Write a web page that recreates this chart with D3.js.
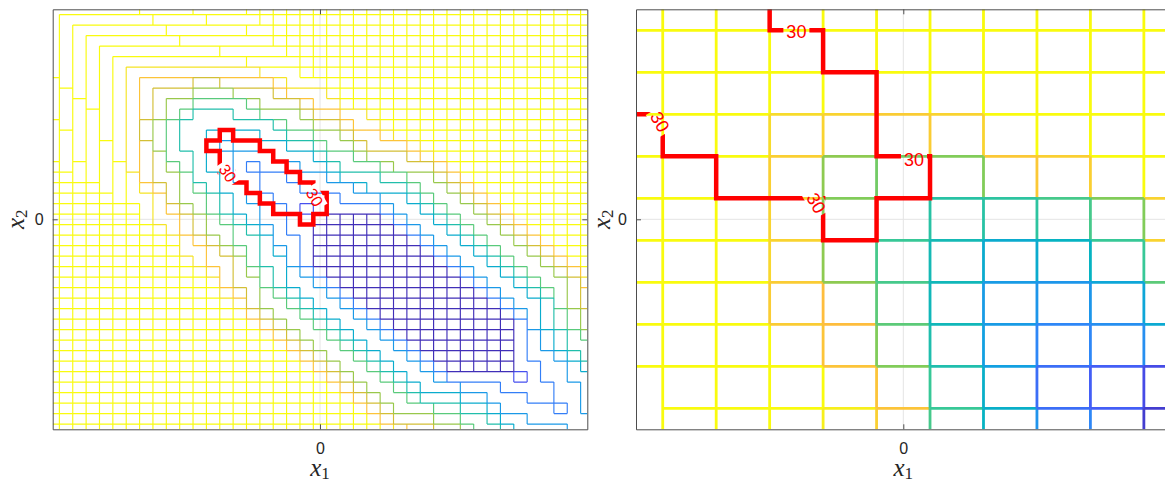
<!DOCTYPE html>
<html>
<head>
<meta charset="utf-8">
<script src="https://cdn.jsdelivr.net/npm/d3@7/dist/d3.min.js"></script>
<style>
  html, body { margin: 0; padding: 0; background: #fff; }
  svg { display: block; }
</style>
</head>
<body>
<svg id="chart" width="1165" height="484"></svg>
<script>
// ---------------- data ----------------
const x1Domain = [-2, 2];
const x2Domain = [-2, 2];
const tickValues = [0];
const contourLabel = "30";

// Fine sampling, 41 x 41 cells, rows listed from x2 = 2 (top) down to x2 = -2.
// Each row: [leading steep cells, band codes]; the rest of the row is steep cells.
// '+' steep cell (a level boundary on every side), '*' basin cell,
// '1'-'9','a'-'i' contour band the cell falls in.
const fineSize = 41;
const fineRows = [
  [0, "ggggggghhhhiiii"],
  [0, "gfffffffgggghhhh"],
  [0, "gfeeeeeeeffffffgg"],
  [0, "gfedddddddeeeeeeef"],
  [0, "gfedcccccccccddddde"],
  [0, "gfedcbbbbbbbbbbccccd"],
  [0, "gfedcbaaaaaaaaaabbbcd"],
  [0, "hfedcba9999889999abbbc"],
  [0, "hgedcba98887778889aaabc"],
  [0, "hgfdcba9877666678889aabc"],
  [0, "hgfecba987655566777899aab"],
  [0, "igfecba8765555555677889aab"],
  [0, "ihfecba876554444556677899ab"],
  [0, "ihfedba97655434444556778999a"],
  [0, "ihfedba986654433344456678889a"],
  [1, "hgedca98765443233344566678889"],
  [2, "gedcb988755433223334555667789"],
  [3, "fdcba987654432223333455567789"],
  [4, "ecbba877654332222233344567789"],
  [5, "dcba9876544332122222344567789"],
  [6, "dbaa9876543322*****2344567789"],
  [7, "cba9877654322******2344567789"],
  [8, "cba987665332*******2344567789"],
  [9, "caa98765432********2344567789"],
  [10, "ba99865532*********2344567789"],
  [11, "ba98765432*********2344567789"],
  [12, "b988654432*********234456778a"],
  [13, "a987654432*********234456789"],
  [14, "a877654432*********23445789"],
  [15, "9877654432*********2345678"],
  [16, "9877654432*********245678"],
  [17, "9877654432********234567"],
  [18, "9877654432*******234566"],
  [19, "9877654432******233456"],
  [20, "9877654432*****223345"],
  [21, "98776544322222123344"],
  [22, "9877654443332222334"],
  [23, "987765554433322334"],
  [24, "98777665543333234"],
  [25, "9888776654433333"],
  [26, "a99887665444433"]
];
const fineTopBand = 11;

// Cells inside the 30 contour on the fine sampling: [row, first column, last column]
const fineRedRuns = [
  [12, 13, 13], [13, 12, 15], [14, 13, 16], [15, 13, 17], [16, 14, 18],
  [17, 15, 19], [18, 16, 20], [19, 17, 20], [20, 19, 19]
];
const fineRedLabels = [
  { x1: -0.69, x2: 0.44, angle: 56 },
  { x1: -0.04, x2: 0.21, angle: 60 }
];

// Coarse sampling, 11 x 11 cells, normalised colour level (1 and above = top colour)
const coarseSize = 11;
const coarseLevels = [
  [2.00, 1.95, 1.90, 1.85, 1.80, 1.75, 1.70, 1.65, 1.60, 1.55, 1.50],
  [1.95, 1.90, 1.85, 1.80, 1.75, 1.70, 1.65, 1.60, 1.55, 1.50, 1.45],
  [1.90, 1.85, 1.80, 1.75, 1.70, 1.60, 1.55, 1.50, 1.45, 1.40, 1.35],
  [1.80, 1.75, 1.70, 0.88, 0.86, 0.84, 0.86, 1.20, 1.15, 1.10, 1.05],
  [1.70, 1.65, 1.60, 0.85, 0.62, 0.58, 0.60, 0.83, 0.85, 1.05, 1.00],
  [1.60, 1.55, 1.50, 0.86, 0.60, 0.50, 0.47, 0.48, 0.52, 0.60, 0.86],
  [1.50, 1.45, 1.40, 0.87, 0.62, 0.52, 0.43, 0.36, 0.40, 0.50, 0.90],
  [1.40, 1.35, 1.30, 0.84, 0.80, 0.55, 0.42, 0.28, 0.26, 0.33, 0.55],
  [1.30, 1.25, 1.20, 1.10, 0.82, 0.60, 0.45, 0.30, 0.20, 0.23, 0.35],
  [1.20, 1.15, 1.10, 1.05, 1.00, 0.82, 0.50, 0.38, 0.15, 0.12, 0.08],
  [1.20, 1.10, 1.05, 1.02, 0.95, 0.85, 0.52, 0.40, 0.25, 0.20, 0.05]
];
const coarseRedRuns = [
  [0, 0, 2], [1, 0, 3], [2, 0, 4], [3, 1, 4], [4, 2, 5], [5, 4, 4]
];
const coarseRedLabels = [
  { x1: -0.80, x2: 1.79, angle: 0 },
  { x1: -1.82, x2: 0.93, angle: 60 },
  { x1: 0.08, x2: 0.57, angle: 0 },
  { x1: -0.65, x2: 0.155, angle: 60 }
];

// ---------------- colour map (parula-like) ----------------
const parulaStops = ["#3e26a8", "#4854f6", "#2e87f7", "#12a0e1", "#06b3c2",
                     "#37c897", "#81cc59", "#c3c033", "#febd3d", "#f5e227", "#f9fb0e"];
const parula = d3.scaleLinear()
  .domain(parulaStops.map((_, k) => k / (parulaStops.length - 1)))
  .range(parulaStops)
  .clamp(true);

// ---------------- helpers ----------------
const svg = d3.select("#chart");
const defs = svg.append("defs");

function bandLevel(ch) {
  if (ch === "*") return -1;
  if (ch === "+") return Infinity;
  return parseInt(ch, 36);
}

function runsToSet(runs) {
  const s = new Set();
  runs.forEach(([r, a, b]) => { for (let c = a; c <= b; c++) s.add(r + "," + c); });
  return s;
}

function drawPanel(cfg) {
  const { left, right, top, bottom } = cfg.box;
  const sx = d3.scaleLinear().domain(x1Domain).range([left, right]);
  const sy = d3.scaleLinear().domain(x2Domain).range([bottom, top]);
  const n = cfg.n;
  const stepX = (x1Domain[1] - x1Domain[0]) / (n - 1);
  const stepY = (x2Domain[1] - x2Domain[0]) / (n - 1);
  const colX = j => x1Domain[0] + j * stepX;
  const rowY = i => x2Domain[1] - i * stepY;
  const xA = j => Math.max(x1Domain[0], colX(j) - stepX / 2);
  const xB = j => Math.min(x1Domain[1], colX(j) + stepX / 2);
  const yA = i => Math.min(x2Domain[1], rowY(i) + stepY / 2);
  const yB = i => Math.max(x2Domain[0], rowY(i) - stepY / 2);

  const clipId = "clip-" + cfg.id;
  defs.append("clipPath").attr("id", clipId)
    .append("rect").attr("x", left).attr("y", top)
    .attr("width", right - left).attr("height", bottom - top);

  const g = svg.append("g");
  const plot = g.append("g").attr("clip-path", `url(#${clipId})`);

  // zero grid lines
  plot.append("line").attr("x1", sx(0)).attr("x2", sx(0)).attr("y1", top).attr("y2", bottom)
    .attr("stroke", "#e4e4e4").attr("stroke-width", 1);
  plot.append("line").attr("y1", sy(0)).attr("y2", sy(0)).attr("x1", left).attr("x2", right)
    .attr("stroke", "#e4e4e4").attr("stroke-width", 1);

  // level boundaries between neighbouring cells
  const segs = [];
  for (let i = 0; i < n; i++) {
    for (let j = 0; j < n; j++) {
      if (j < n - 1 && cfg.split(i, j, i, j + 1)) {
        segs.push({ a: [sx(xB(j)), sy(yA(i))], b: [sx(xB(j)), sy(yB(i))], t: cfg.tone(i, j, i, j + 1) });
      }
      if (i < n - 1 && cfg.split(i, j, i + 1, j)) {
        segs.push({ a: [sx(xA(j)), sy(yB(i))], b: [sx(xB(j)), sy(yB(i))], t: cfg.tone(i, j, i + 1, j) });
      }
    }
  }
  const byColour = Array.from(d3.group(segs, d => parula(d.t)));
  byColour.sort((p, q) => d3.descending(d3.mean(p[1], d => d.t), d3.mean(q[1], d => d.t)));
  plot.append("g").selectAll("path").data(byColour).join("path")
    .attr("d", ([, arr]) => arr.map(s => `M${s.a[0]},${s.a[1]}L${s.b[0]},${s.b[1]}`).join(""))
    .attr("fill", "none")
    .attr("stroke", ([c]) => c)
    .attr("stroke-width", cfg.lineWidth);

  // contour 30 (staircase boundary of the marked cells)
  const inside = runsToSet(cfg.redRuns);
  const isIn = (i, j) => inside.has(i + "," + j);
  const red = [];
  inside.forEach(key => {
    const [i, j] = key.split(",").map(Number);
    if (j + 1 < n && !isIn(i, j + 1)) red.push([[xB(j), yA(i)], [xB(j), yB(i)]]);
    if (j - 1 >= 0 && !isIn(i, j - 1)) red.push([[xA(j), yA(i)], [xA(j), yB(i)]]);
    if (i + 1 < n && !isIn(i + 1, j)) red.push([[xA(j), yB(i)], [xB(j), yB(i)]]);
    if (i - 1 >= 0 && !isIn(i - 1, j)) red.push([[xA(j), yA(i)], [xB(j), yA(i)]]);
  });

  // labels first, so the gaps in the contour can be sized from them
  const labelG = g.append("g");
  const labels = cfg.redLabels.map(l => {
    const px = sx(l.x1), py = sy(l.x2);
    const t = labelG.append("text")
      .attr("transform", `translate(${px},${py}) rotate(${l.angle})`)
      .attr("text-anchor", "middle")
      .attr("dy", "0.36em")
      .attr("font-family", "'Liberation Sans', Arial, Helvetica, sans-serif")
      .attr("font-size", cfg.labelSize)
      .attr("fill", "#ff0000")
      .text(contourLabel);
    return { px, py, angle: l.angle, w: t.node().getComputedTextLength() };
  });

  const maskId = "gap-" + cfg.id;
  const mask = defs.append("mask").attr("id", maskId).attr("maskUnits", "userSpaceOnUse")
    .attr("x", 0).attr("y", 0).attr("width", 1165).attr("height", 484);
  mask.append("rect").attr("x", 0).attr("y", 0).attr("width", 1165).attr("height", 484).attr("fill", "#fff");
  labels.forEach(l => {
    mask.append("rect")
      .attr("transform", `translate(${l.px},${l.py}) rotate(${l.angle})`)
      .attr("x", -l.w / 2 - 3).attr("y", -cfg.labelSize * 0.5)
      .attr("width", l.w + 6).attr("height", cfg.labelSize)
      .attr("fill", "#000");
  });

  plot.append("g").attr("mask", `url(#${maskId})`)
    .append("path")
    .attr("d", red.map(([p, q]) => `M${sx(p[0])},${sy(p[1])}L${sx(q[0])},${sy(q[1])}`).join(""))
    .attr("fill", "none")
    .attr("stroke", "#ff0000")
    .attr("stroke-width", cfg.redWidth)
    .attr("stroke-linecap", "square");

  labelG.raise();

  // axes (box with inward ticks)
  const axisColour = "#4d4d4d";
  const styleAxis = sel => {
    sel.select(".domain").attr("stroke", axisColour).attr("stroke-width", 1);
    sel.selectAll(".tick line").attr("stroke", axisColour).attr("stroke-width", 1);
    sel.selectAll(".tick text")
      .attr("fill", "#262626")
      .attr("font-size", 16)
      .attr("font-family", "'Liberation Sans', Arial, Helvetica, sans-serif");
  };
  const fmt = d3.format("d");
  const none = () => "";
  g.append("g").attr("transform", `translate(0,${bottom})`)
    .call(d3.axisBottom(sx).tickValues(tickValues).tickSizeInner(-5).tickSizeOuter(0).tickPadding(13).tickFormat(fmt))
    .call(styleAxis);
  g.append("g").attr("transform", `translate(0,${top})`)
    .call(d3.axisTop(sx).tickValues(tickValues).tickSizeInner(-5).tickSizeOuter(0).tickFormat(none))
    .call(styleAxis);
  g.append("g").attr("transform", `translate(${left},0)`)
    .call(d3.axisLeft(sy).tickValues(tickValues).tickSizeInner(-5).tickSizeOuter(0).tickPadding(9).tickFormat(fmt))
    .call(styleAxis);
  g.append("g").attr("transform", `translate(${right},0)`)
    .call(d3.axisRight(sy).tickValues(tickValues).tickSizeInner(-5).tickSizeOuter(0).tickFormat(none))
    .call(styleAxis);

  // axis titles x_1 and x_2
  const mathTitle = (x, y, rot, sub) => {
    const t = g.append("text")
      .attr("transform", `translate(${x},${y}) rotate(${rot})`)
      .attr("text-anchor", "middle")
      .attr("fill", "#262626")
      .attr("font-family", "'Liberation Serif', 'DejaVu Serif', serif");
    t.append("tspan").attr("font-style", "italic").attr("font-size", 25).text("x");
    t.append("tspan").attr("font-size", 17).attr("dy", 3).text(sub);
  };
  mathTitle(sx(0), 476, 0, "1");
  mathTitle(cfg.yTitleX, sy(0), -90, "2");
}

// ---------------- panels ----------------
const fineGrid = fineRows.map(([lead, bands]) =>
  ("+".repeat(lead) + bands).padEnd(fineSize, "+").split(""));

drawPanel({
  id: "fine",
  box: { left: 52.7, right: 587.3, top: 9.3, bottom: 429.3 },
  n: fineSize,
  split: (i, j, k, l) => {
    const a = fineGrid[i][j], b = fineGrid[k][l];
    return a !== b || a === "+" || a === "*";
  },
  tone: (i, j, k, l) => {
    const m = Math.min(bandLevel(fineGrid[i][j]), bandLevel(fineGrid[k][l]));
    return m < 0 ? 0.02 : Math.min(m / fineTopBand, 1);
  },
  lineWidth: 1.15,
  redRuns: fineRedRuns,
  redLabels: fineRedLabels,
  redWidth: 4.5,
  labelSize: 16,
  yTitleX: 24
});

drawPanel({
  id: "coarse",
  box: { left: 636, right: 1170.6, top: 9.3, bottom: 429.3 },
  n: coarseSize,
  split: (i, j, k, l) => coarseLevels[i][j] !== coarseLevels[k][l],
  tone: (i, j, k, l) => Math.min(1, Math.min(coarseLevels[i][j], coarseLevels[k][l])),
  lineWidth: 2.8,
  redRuns: coarseRedRuns,
  redLabels: coarseRedLabels,
  redWidth: 4.5,
  labelSize: 18,
  yTitleX: 610
});
</script>
</body>
</html>
